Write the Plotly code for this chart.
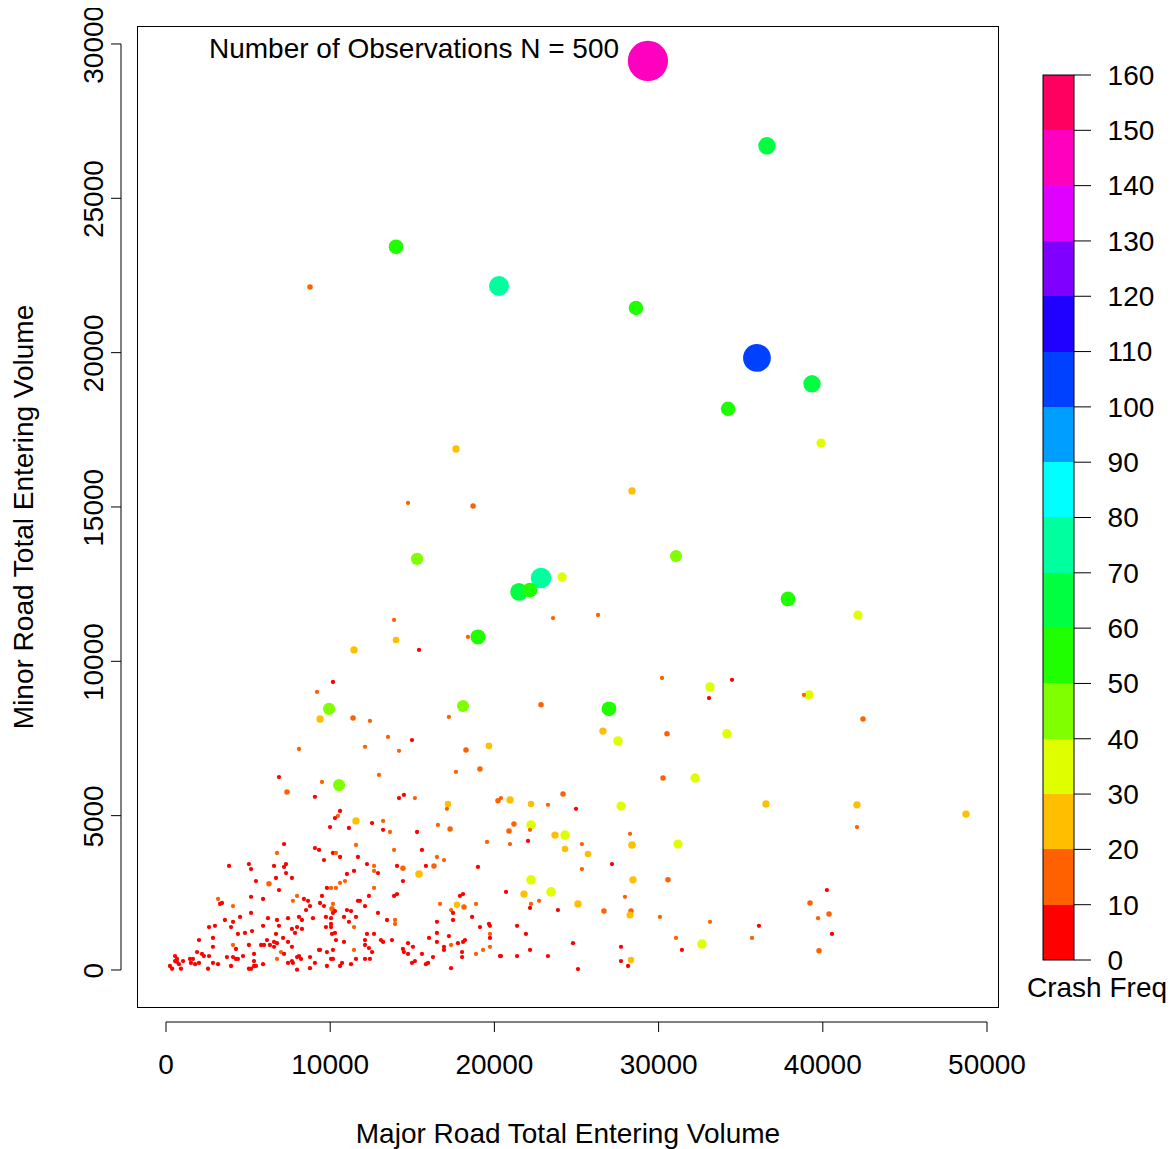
import plotly.graph_objects as go

# ---------------- data ----------------
# upper / middle part of the cloud
major_a = [8770, 14010, 20280, 28620, 29350, 36600, 35990, 39340, 34230, 39890,
           17660, 28380, 14740, 18700, 15290, 31060, 22840, 21500, 22170, 24120,
           23570, 26310, 13890, 14010, 11450, 15410, 19000, 18390, 37880, 42140,
           10170, 9200, 30210, 34470, 33130, 33070, 39160, 38850, 9930, 18090,
           26980, 22840, 42450, 9380, 11390, 12420, 17230, 26610, 27530, 30510,
           34160, 13520, 14980, 12120, 14190, 18270, 19670, 8100, 30270, 32220,
           12970, 17660, 19120, 6880, 9500, 10540, 7370, 9070, 14190, 14490,
           15160, 17170, 17110, 20220, 20400, 20950, 24180, 22230, 23260, 24970,
           27710, 36540, 42080, 48720, 42080, 9990, 10600, 10470, 10290, 11570,
           11140, 12550, 13220, 13220, 13640, 15290, 16560, 17300, 20890, 21190,
           22230, 22170, 23690, 24300, 22050, 28260, 31180, 28380]
minor_a = [22130, 23430, 22160, 21450, 29450, 26700, 19830, 18990, 18180, 17070,
           16880, 15520, 15130, 15030, 13320, 13410, 12700, 12250, 12310, 12730,
           11400, 11500, 11340, 10690, 10370, 10370, 10790, 10790, 12020, 11500,
           9330, 9010, 9460, 9400, 9170, 8810, 8910, 8910, 8460, 8550,
           8460, 8590, 8130, 8130, 8160, 8070, 8200, 7740, 7420, 7650,
           7650, 7550, 7450, 7230, 7100, 7130, 7260, 7160, 6220, 6220,
           6320, 6420, 6510, 6250, 6090, 5990, 5770, 5610, 5570, 5670,
           5570, 5380, 5220, 5480, 5570, 5510, 5700, 5380, 5350, 5220,
           5310, 5380, 5350, 5050, 4630, 4630, 5150, 4990, 4920, 4830,
           4600, 4760, 4830, 4540, 4470, 4470, 4700, 4570, 4500, 4730,
           4700, 4540, 4370, 4370, 4180, 4410, 4080, 4050]
crash_a = [17, 52, 72, 51, 148, 62, 101, 62, 51, 31,
           24, 24, 11, 17, 43, 42, 74, 63, 52, 32,
           11, 11, 11, 21, 24, 5, 53, 11, 52, 31,
           5, 11, 11, 6, 32, 6, 32, 11, 42, 42,
           52, 17, 17, 24, 17, 11, 11, 24, 32, 17,
           32, 11, 6, 11, 11, 17, 21, 11, 17, 32,
           11, 11, 17, 5, 11, 42, 17, 5, 6, 4,
           11, 21, 11, 17, 11, 24, 17, 21, 11, 6,
           31, 24, 24, 24, 11, 5, 6, 11, 7, 24,
           5, 6, 11, 4, 11, 6, 11, 17, 17, 17,
           32, 11, 24, 32, 6, 11, 31, 25]

# lower right
major_b = [30570, 40250, 39220, 40380, 39710, 30080, 33130, 36110, 40560, 31060,
           35690, 32640, 31420, 39770]
minor_b = [2920, 2590, 2170, 1810, 1680, 1720, 1560, 1430, 1170, 1040,
           1040, 840, 650, 620]
crash_b = [17, 6, 17, 17, 11, 11, 11, 6, 5, 11,
           11, 32, 6, 17]

# lower middle (20000-29000)
major_c = [20950, 25330, 24300, 25700, 27160, 25330, 22230, 23450, 21800, 28440,
           20710, 22720, 22230, 22170, 23870, 25090, 27950, 26670, 28320, 28260,
           21380, 21920, 22170, 24790, 20400, 21380, 23260, 27710, 27710, 28320,
           28140, 25090]
minor_c = [4080, 4080, 3920, 3760, 3430, 3270, 2920, 2530, 2460, 2920,
           2530, 2240, 2140, 2010, 1940, 2140, 2370, 1910, 1910, 1780,
           1430, 1170, 650, 870, 450, 450, 450, 750, 290, 320,
           130, 30]
crash_c = [11, 11, 21, 21, 6, 11, 33, 33, 24, 24,
           6, 11, 11, 5, 6, 24, 11, 17, 17, 23,
           6, 4, 6, 5, 6, 7, 5, 6, 4, 21,
           6, 5]

# lower middle (10000-20000)
major_d = [11570, 13890, 15590, 19550, 10170, 10350, 10600, 11690, 16500, 16930,
           12240, 12670, 12670, 12910, 14070, 14430, 15410, 15830, 16320, 19000,
           11020, 11450, 10900, 10600, 14430, 10050, 10350, 12670, 12360, 13890,
           14070, 17900, 18090, 10170, 10110, 10290, 10170, 11690, 11810, 12120,
           16690, 17720, 18150, 17360, 17480, 18880, 11020, 11270, 12910, 10050,
           10840, 11570, 11140, 13460, 13950, 13950, 17480, 18640, 10050, 10050,
           11450, 16500, 19120, 19670, 19730, 10290, 10110, 12240, 12670, 19730,
           19730, 16500, 10350, 10840, 12120, 12120, 13090, 13220, 13760, 16020,
           14740, 17230, 16500, 17780, 18090, 18210, 15040, 16930, 16930, 17360,
           19310, 19730, 12360, 12550, 10170, 11450, 14430, 14490, 14740, 15590,
           18030, 18880, 16260, 18030, 9380, 10050, 10170, 10720, 10600, 11270,
           11570, 12120, 12420, 14980, 15160, 15830, 15960, 17360, 20340]
minor_d = [4050, 3890, 3890, 4150, 3790, 3790, 3660, 3660, 3660, 3560,
           3430, 3370, 3210, 3140, 3370, 3300, 3110, 3370, 3370, 3340,
           3110, 3210, 2880, 2820, 2880, 2660, 2660, 2660, 2400, 2400,
           2460, 2400, 2460, 2140, 1980, 1910, 1850, 2240, 2240, 2070,
           2140, 2110, 2040, 1940, 1850, 2140, 1940, 1910, 1850, 1680,
           1720, 1720, 1560, 1620, 1620, 1490, 1620, 1720, 1490, 1390,
           1390, 1560, 1390, 1490, 1430, 1200, 1170, 1170, 1170, 1170,
           1040, 1200, 970, 910, 970, 810, 970, 910, 970, 1040,
           870, 1100, 910, 870, 910, 970, 750, 750, 650, 810,
           650, 750, 710, 580, 650, 650, 680, 580, 520, 520,
           580, 520, 420, 420, 650, 360, 360, 230, 130, 190,
           360, 360, 360, 230, 290, 190, 230, 60, 450]
crash_d = [11, 11, 6, 11, 5, 11, 6, 7, 11, 11,
           6, 11, 11, 5, 6, 17, 25, 6, 17, 6,
           6, 4, 11, 11, 6, 11, 11, 11, 6, 5,
           6, 6, 7, 11, 17, 6, 5, 6, 6, 4,
           11, 21, 17, 11, 6, 11, 6, 5, 6, 6,
           7, 6, 5, 6, 11, 11, 6, 6, 4, 6,
           11, 6, 5, 6, 6, 6, 7, 6, 5, 11,
           6, 6, 4, 6, 6, 5, 6, 6, 7, 6,
           6, 5, 6, 6, 4, 6, 6, 5, 6, 11,
           11, 11, 6, 6, 7, 11, 6, 5, 6, 6,
           6, 11, 6, 4, 6, 6, 5, 6, 6, 7,
           6, 6, 5, 6, 6, 4, 6, 6, 6]

# lower left (0-10000)
major_e = [7190, 9070, 9320, 6760, 9620, 3840, 5050, 5180, 6580, 7190,
           7310, 7310, 6700, 7670, 5480, 6270, 6880, 9800, 3170, 3410,
           3290, 4080, 5180, 5910, 7980, 7730, 8400, 8650, 8530, 8770,
           9380, 9620, 9500, 5180, 4510, 3590, 4080, 6210, 6760, 7430,
           8100, 8280, 8950, 9740, 2620, 2980, 3960, 6880, 5910, 7980,
           7670, 8280, 9740, 4380, 4810, 5240, 6700, 7860, 2010, 2860,
           6150, 7130, 6580, 6760, 6330, 5970, 5790, 7430, 5050, 2860,
           4080, 4260, 6580, 7670, 9320, 1890, 2190, 2310, 2620, 3710,
           4080, 4260, 4380, 4690, 5360, 7000, 7190, 6760, 7980, 8100,
           8220, 8770, 9800, 550, 670, 550, 790, 670, 1040, 1460,
           1640, 1520, 1770, 2010, 240, 370, 910, 2560, 2860, 3170,
           3960, 5360, 5050, 5180, 5480, 5360, 5910, 7430, 7730, 7670,
           7980, 8770, 9070, 9800]
minor_e = [4080, 3950, 3890, 3790, 3560, 3370, 3430, 3270, 3370, 3340,
           3430, 3140, 2980, 2980, 2880, 2790, 2590, 2660, 2300, 2170,
           2140, 2070, 2370, 2300, 2400, 2240, 2300, 2240, 1940, 2070,
           2170, 2070, 2400, 1850, 1720, 1620, 1560, 1680, 1620, 1680,
           1720, 1620, 1680, 1720, 1390, 1430, 1390, 1430, 1430, 1390,
           1330, 1330, 1390, 1170, 1200, 1260, 1170, 1200, 970, 1040,
           970, 1040, 910, 870, 810, 810, 810, 910, 810, 750,
           810, 680, 750, 750, 650, 580, 520, 450, 450, 420,
           420, 360, 360, 450, 520, 580, 520, 360, 420, 450,
           360, 420, 580, 450, 360, 290, 190, 260, 290, 360,
           360, 230, 190, 230, 130, 40, 40, 40, 230, 190,
           130, 290, 40, 40, 130, 130, 190, 230, 230, 290,
           10, 60, 230, 130]
crash_e = [6, 5, 6, 11, 6, 7, 6, 5, 6, 6,
           4, 6, 6, 7, 6, 17, 6, 5, 11, 6,
           6, 11, 6, 5, 11, 11, 6, 6, 7, 6,
           6, 5, 6, 6, 6, 4, 6, 6, 7, 6,
           5, 6, 6, 6, 6, 5, 6, 6, 7, 6,
           4, 6, 6, 6, 5, 6, 6, 6, 6, 7,
           6, 6, 5, 6, 6, 4, 6, 6, 6, 5,
           11, 6, 6, 7, 6, 6, 5, 6, 6, 4,
           6, 6, 7, 6, 6, 11, 6, 11, 5, 6,
           6, 6, 4, 6, 5, 6, 6, 7, 6, 6,
           4, 6, 6, 5, 6, 6, 7, 6, 6, 5,
           6, 6, 4, 6, 6, 5, 6, 6, 7, 6,
           6, 5, 6, 6]

x_ticks = [0, 10000, 20000, 30000, 40000, 50000]
y_ticks = [0, 5000, 10000, 15000, 20000, 25000, 30000]
cb_ticks = [0, 10, 20, 30, 40, 50, 60, 70, 80, 90, 100, 110, 120, 130, 140, 150, 160]
note_text = "Number of Observations N = 500"
cb_title = "Crash Freq"

# ---------------- assemble ----------------
major = major_a + major_b + major_c + major_d + major_e
minor = minor_a + minor_b + minor_c + minor_d + minor_e
crash = crash_a + crash_b + crash_c + crash_d + crash_e
assert len(major) == len(minor) == len(crash), (len(major), len(minor), len(crash))

rainbow16 = ["#FF0000", "#FF6000", "#FFBF00", "#DFFF00", "#80FF00", "#20FF00",
             "#00FF40", "#00FF9F", "#00FFFF", "#009FFF", "#0040FF", "#2000FF",
             "#8000FF", "#DF00FF", "#FF00BF", "#FF0060"]
colorscale = []
for i, col in enumerate(rainbow16):
    colorscale.append([i / 16, col])
    colorscale.append([(i + 1) / 16, col])

CMIN, CMAX = 0, 160
sizes = [max(4.3, 1 + 0.265 * v) for v in crash]

FONT = "Liberation Sans, Arial, Helvetica, sans-serif"
FS = 28

# the page body adds an 8px offset; the layout below is in page pixels minus 8
W, H = 1166, 1141
PW, PH = 860, 980            # plot box size
ML, MT = 130, 19             # plot box top-left
MR, MB = W - ML - PW, H - MT - PH
OFF = 8
BOX_L, BOX_B = ML + OFF, MT + OFF + PH   # box in page pixels (138, 1007)

def paper_x(px):
    return (px - BOX_L) / PW

def paper_y(py):
    return (BOX_B - py) / PH

# colorbar geometry (page px)
CB_L, CB_R, CB_T, CB_B = 1043, 1074, 75, 960
CB_TICK_END = 1091

fig = go.Figure()
fig.add_trace(go.Scatter(
    x=major, y=minor, mode="markers",
    marker=dict(
        size=sizes, color=crash, colorscale=colorscale, cmin=CMIN, cmax=CMAX,
        line=dict(width=0), opacity=1,
        colorbar=dict(
            thickness=CB_R - CB_L, thicknessmode="pixels",
            len=CB_B - CB_T, lenmode="pixels",
            x=paper_x(CB_L), xanchor="left", xpad=0,
            y=paper_y(CB_T), yanchor="top", ypad=0,
            outlinewidth=1, outlinecolor="black",
            tickvals=cb_ticks, ticktext=[str(v) for v in cb_ticks],
            ticks="outside", ticklen=28, tickwidth=1, tickcolor="rgba(0,0,0,0)",
            tickfont=dict(family=FONT, size=FS, color="black"),
        ),
    ),
    hoverinfo="x+y+text", text=[f"Crash Freq: {v}" for v in crash],
    showlegend=False,
))

# R-style detached axis lines and tick marks
y_axis_line = paper_y(1022)
y_tick_end = paper_y(1032)
x_axis_line = paper_x(121)
x_tick_end = paper_x(111)
LINE = dict(color="black", width=1)
shapes = [dict(type="line", xref="x", yref="paper", x0=x_ticks[0], x1=x_ticks[-1],
               y0=y_axis_line, y1=y_axis_line, line=LINE)]
for v in x_ticks:
    shapes.append(dict(type="line", xref="x", yref="paper", x0=v, x1=v,
                       y0=y_axis_line, y1=y_tick_end, line=LINE))
shapes.append(dict(type="line", xref="paper", yref="y", x0=x_axis_line, x1=x_axis_line,
                   y0=y_ticks[0], y1=y_ticks[-1], line=LINE))
for v in y_ticks:
    shapes.append(dict(type="line", xref="paper", yref="y", x0=x_axis_line, x1=x_tick_end,
                       y0=v, y1=v, line=LINE))
# colorbar tick marks (shorter than the label offset)
for v in cb_ticks:
    py = CB_B - (v - CMIN) / (CMAX - CMIN) * (CB_B - CB_T)
    shapes.append(dict(type="line", xref="paper", yref="paper",
                       x0=paper_x(CB_R), x1=paper_x(CB_TICK_END),
                       y0=paper_y(py), y1=paper_y(py), line=LINE))

fig.update_layout(
    width=W, height=H,
    margin=dict(l=ML, r=MR, t=MT, b=MB, autoexpand=False),
    paper_bgcolor="white", plot_bgcolor="white",
    font=dict(family=FONT, size=FS, color="black"),
    shapes=shapes,
    xaxis=dict(
        range=[-1705, 50670], showgrid=False, zeroline=False,
        showline=True, mirror=True, linecolor="black", linewidth=1,
        tickvals=x_ticks, ticktext=[str(v) for v in x_ticks],
        ticks="outside", ticklen=32, tickcolor="rgba(0,0,0,0)",
        ticklabeloverflow="allow",
        tickfont=dict(family=FONT, size=FS, color="black"),
        title=dict(text="Major Road Total Entering Volume", standoff=48,
                   font=dict(family=FONT, size=FS, color="black")),
    ),
    yaxis=dict(
        range=[-1199, 30550], showgrid=False, zeroline=False,
        showline=True, mirror=True, linecolor="black", linewidth=1,
        tickvals=y_ticks, ticktext=[str(v) for v in y_ticks], tickangle=-90,
        ticks="outside", ticklen=23, tickcolor="rgba(0,0,0,0)",
        ticklabeloverflow="allow", ticklabelshift=5,
        tickfont=dict(family=FONT, size=FS, color="black"),
        title=dict(text="Minor Road Total Entering Volume", standoff=38,
                   font=dict(family=FONT, size=FS, color="black")),
    ),
    annotations=[
        dict(text=note_text, x=2500, y=29840, xref="x", yref="y",
             xanchor="left", yanchor="middle", showarrow=False,
             font=dict(family=FONT, size=FS, color="black")),
        dict(text=cb_title, x=paper_x(1097), y=paper_y(987), xref="paper", yref="paper",
             xanchor="center", yanchor="middle", showarrow=False,
             font=dict(family=FONT, size=FS, color="black")),
    ],
)

fig.write_html("out.html")
